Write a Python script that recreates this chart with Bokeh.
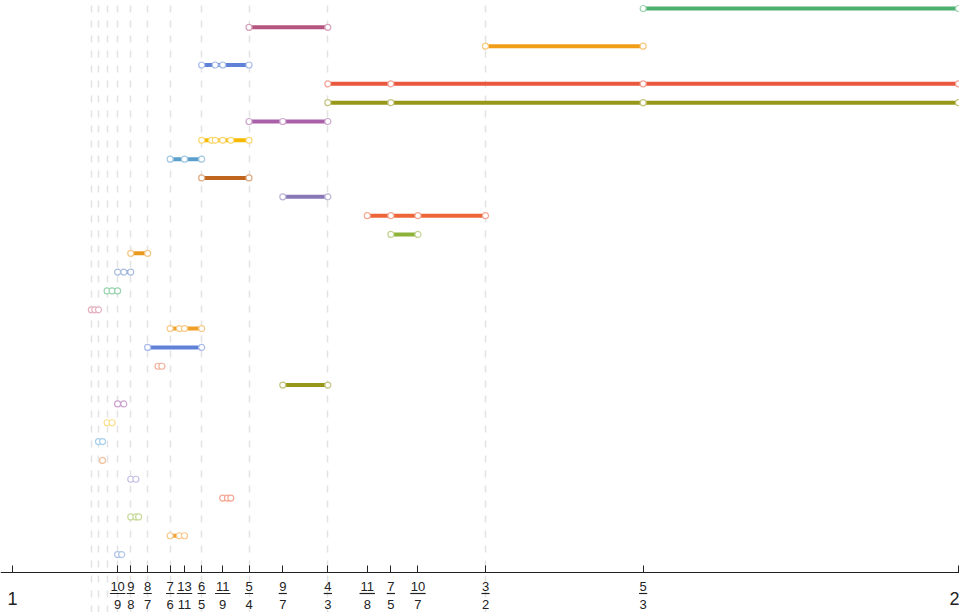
from fractions import Fraction
from bokeh.plotting import figure
from bokeh.models import Range1d, FixedTicker, ColumnDataSource, CustomJSTickFormatter
from bokeh.embed import file_html
from bokeh.resources import INLINE
from bokeh.core.properties import value

# ---- data ----
tick_labels = ["10/9", "9/8", "8/7", "7/6", "13/11", "6/5", "11/9", "5/4", "9/7",
               "4/3", "11/8", "7/5", "10/7", "3/2", "5/3"]
end_labels = ["1", "2"]
grid_labels = ["13/12", "12/11", "11/10", "10/9", "9/8", "8/7", "7/6", "6/5",
               "5/4", "4/3", "3/2"]

row_points = [
    ["5/3", "2/1"],
    ["5/4", "4/3"],
    ["3/2", "5/3"],
    ["6/5", "17/14", "11/9", "5/4"],
    ["4/3", "7/5", "5/3", "2/1"],
    ["4/3", "7/5", "5/3", "2/1"],
    ["5/4", "9/7", "4/3"],
    ["6/5", "23/19", "17/14", "11/9", "16/13", "5/4"],
    ["7/6", "13/11", "6/5"],
    ["6/5", "5/4"],
    ["9/7", "4/3"],
    ["11/8", "7/5", "10/7", "3/2"],
    ["7/5", "10/7"],
    ["9/8", "8/7"],
    ["10/9", "19/17", "9/8"],
    ["11/10", "21/19", "10/9"],
    ["13/12", "25/23", "12/11"],
    ["7/6", "20/17", "13/11", "6/5"],
    ["8/7", "6/5"],
    ["15/13", "22/19"],
    ["9/7", "4/3"],
    ["10/9", "19/17"],
    ["11/10", "21/19"],
    ["12/11", "23/21"],
    ["23/21"],
    ["9/8", "26/23"],
    ["11/9", "27/22", "16/13"],
    ["9/8", "26/23", "17/15"],
    ["7/6", "20/17", "13/11"],
    ["10/9", "29/26"],
]

row_colors = ["#4caf6e", "#b5557f", "#f29d17", "#5f82d8", "#e8573e", "#97981a",
              "#a960a8", "#f6b900", "#5b9fcc", "#c0651e", "#8878b8", "#ec663a",
              "#8db23a", "#e89a1e", "#6b8ec8", "#48b36f", "#d0708e", "#f0a028",
              "#5f82d8", "#ee7050", "#97981a", "#a458aa", "#f8c530", "#5ea8e0",
              "#e8904a", "#9a8cd0", "#f06040", "#a0c050", "#eea030", "#7095d0"]


def fval(s):
    return float(Fraction(s))


def tint(hexc, t=0.45):
    h = hexc.lstrip("#")
    r, g, b = (int(h[i:i + 2], 16) for i in (0, 2, 4))
    r = int(r + (255 - r) * t)
    g = int(g + (255 - g) * t)
    b = int(b + (255 - b) * t)
    return "#%02x%02x%02x" % (r, g, b)


n_rows = len(row_points)
W, H = 959, 612
px_x = 946.0          # pixels per unit along x
px_y = 18.83          # pixels per row
top_row = n_rows - 1


def page_to_y(py):
    return top_row - (py - 8) / px_y


p = figure(width=W, height=H, output_backend="svg", toolbar_location=None,
           x_range=Range1d(1 - 12 / px_x, 1 + (W - 12) / px_x),
           y_range=Range1d(page_to_y(H), page_to_y(0)),
           min_border=0)
p.outline_line_color = None
p.background_fill_color = "white"
p.border_fill_color = "white"
p.yaxis.visible = False
p.ygrid.visible = False

# grid
p.xgrid.ticker = FixedTicker(ticks=[fval(s) for s in grid_labels])
p.xgrid.grid_line_color = "#e3e3e3"
p.xgrid.grid_line_dash = "7 8"
p.xgrid.grid_line_width = 1.5

# axis, drawn at a fixed place inside the frame
ax = p.xaxis[0]
ax.fixed_location = page_to_y(572)
tick_vals = [fval(s) for s in tick_labels]
lab_text = []
for s in tick_labels:
    num, den = s.split("/")
    lab_text.append(num + "\n" + den)
ax.ticker = FixedTicker(ticks=[1.0] + tick_vals + [2.0])
ax.formatter = CustomJSTickFormatter(args=dict(vals=tick_vals, labs=lab_text), code="""
for (let i = 0; i < vals.length; i++) { if (Math.abs(tick - vals[i]) < 1e-9) return labs[i]; }
return "";
""")
ax.major_tick_in = 7
ax.major_tick_out = 0
ax.minor_tick_line_color = None
ax.axis_line_color = "#222222"
ax.major_tick_line_color = "#222222"
ax.major_label_text_font = "Liberation Sans"
ax.major_label_text_font_size = "13px"
ax.major_label_text_color = "#222222"
ax.major_label_standoff = 6

# fraction bars under numerators
bar_y = page_to_y(593)
bx0, bx1 = [], []
for s, v in zip(tick_labels, tick_vals):
    num = s.split("/")[0]
    half = (len(num) * 7.2 + 1) / 2 / px_x
    bx0.append(v - half)
    bx1.append(v + half)
p.segment(x0=bx0, x1=bx1, y0=[bar_y] * len(bx0), y1=[bar_y] * len(bx0),
          line_color="#222222", line_width=1.2)

# end labels 1 and 2
lab_y = page_to_y(598)
p.text(x=[1.0], y=[lab_y], text=[end_labels[0]], text_align="center",
       text_baseline="middle", text_font=value("Liberation Sans"),
       text_font_size="18px", text_color="#222222")
p.text(x=[2.0 + 1 / px_x], y=[lab_y], text=[end_labels[1]], text_align="right",
       text_baseline="middle", text_font=value("Liberation Sans"),
       text_font_size="18px", text_color="#222222")

# rows
seg = dict(x0=[], x1=[], y=[], c=[])
pts = dict(x=[], y=[], c=[])
for i, (plist, col) in enumerate(zip(row_points, row_colors)):
    y = top_row - i
    xs = [fval(s) for s in plist]
    seg["x0"].append(min(xs))
    seg["x1"].append(max(xs))
    seg["y"].append(y)
    seg["c"].append(col)
    for xv in xs:
        pts["x"].append(xv)
        pts["y"].append(y)
        pts["c"].append(tint(col))

p.segment(x0="x0", y0="y", x1="x1", y1="y", line_color="c", line_width=4,
          source=ColumnDataSource(seg))
p.scatter(x="x", y="y", marker="circle", size=6, fill_color="white",
          line_color="c", line_width=1.2, source=ColumnDataSource(pts))

open("out.html", "w").write(file_html(p, INLINE))
